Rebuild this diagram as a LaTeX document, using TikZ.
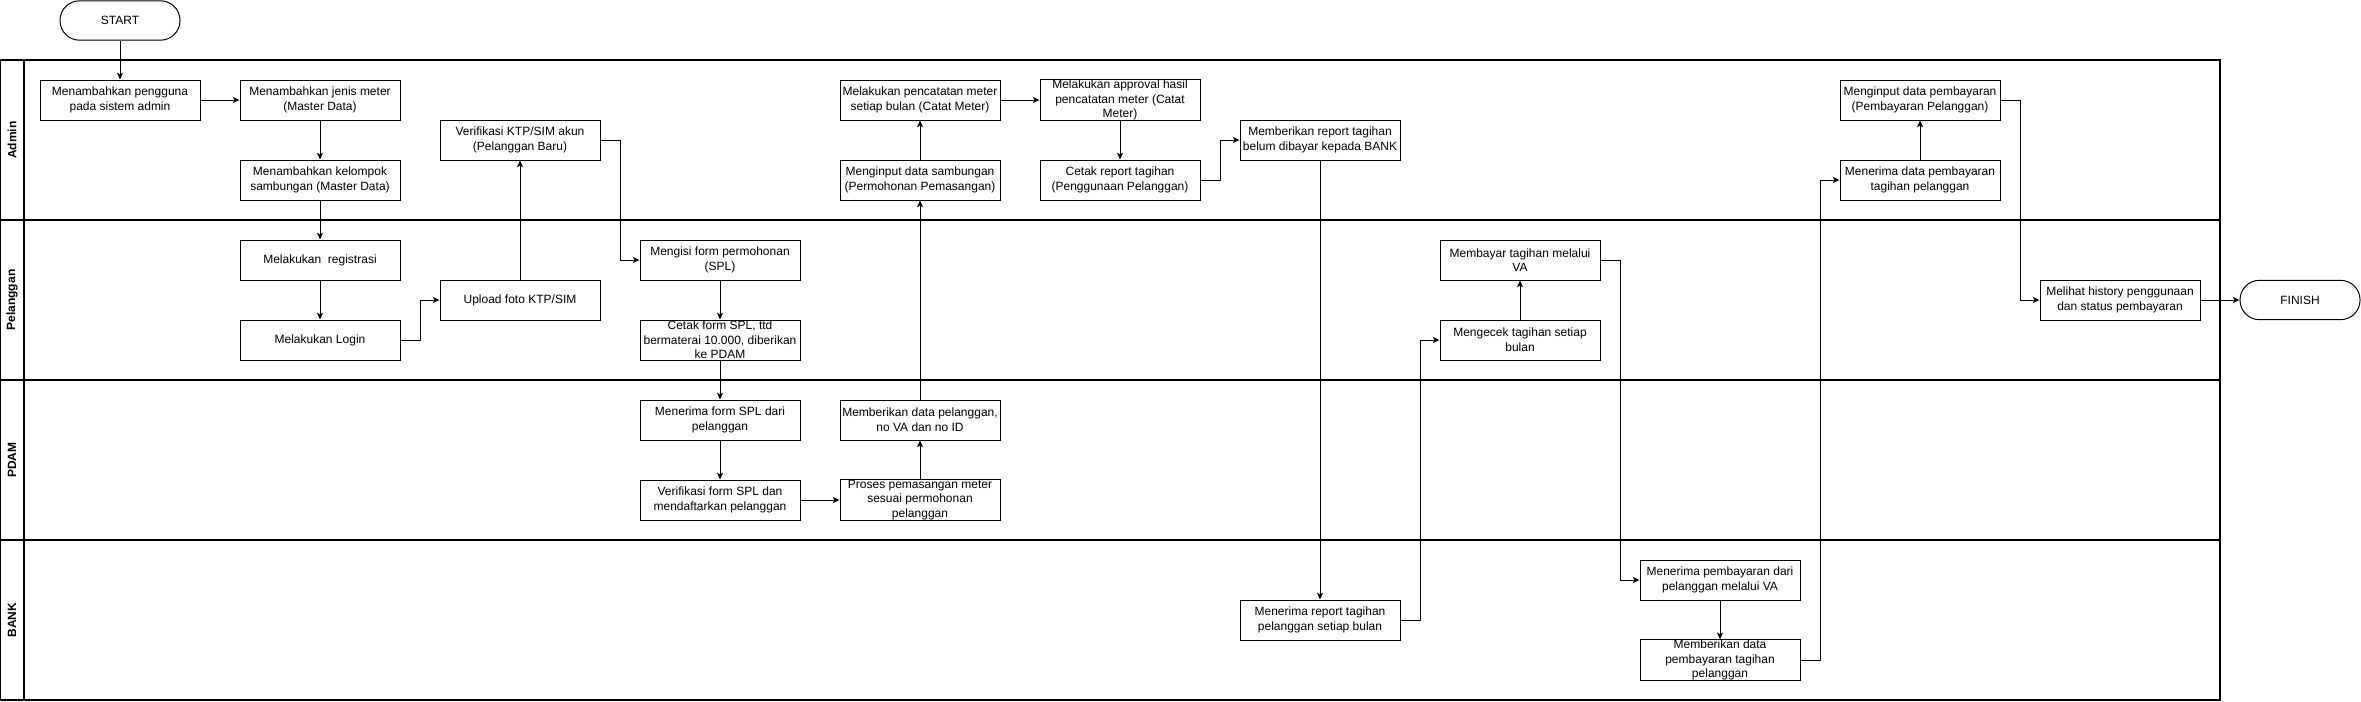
\documentclass[tikz,border=0pt]{standalone}
\usepackage{fontspec}
\setmainfont{Liberation Sans}
\usetikzlibrary{arrows.meta}
\begin{document}
\begin{tikzpicture}[x=0.75pt,y=-0.75pt,
  proc/.style={draw,line width=0.75pt,rectangle,minimum width=120pt,minimum height=30pt,inner sep=0pt,align=center,font=\fontsize{9}{11}\selectfont},
  term/.style={draw,line width=0.75pt,rectangle,rounded corners=14.6pt,minimum width=90pt,minimum height=29.5pt,inner sep=0pt,align=center,font=\fontsize{9}{11}\selectfont},
  lane/.style={line width=1pt},
  lanelabel/.style={rotate=90,font=\bfseries\fontsize{9}{11}\selectfont},
  flow/.style={line width=0.75pt,-{Stealth[length=5pt,width=4.5pt,inset=1.2pt]}}
]
\useasboundingbox (0,0) rectangle (2361,701);
% pool and lanes
\draw[lane] (0.5,60) rectangle (2220,700);
\draw[lane] (24,60) -- (24,700);
\draw[lane] (0.5,220) -- (2220,220);
\draw[lane] (0.5,380) -- (2220,380);
\draw[lane] (0.5,540) -- (2220,540);
\node[lanelabel] (lAdmin) at (12,140) {Admin};
\node[lanelabel] (lPel) at (12,300) {Pelanggan};
\node[lanelabel] (lPdam) at (12,460) {PDAM};
\node[lanelabel] (lBank) at (12,620) {BANK};
% terminals
\node[term] (start) at (120,20.5) {START};
\node[term] (finish) at (2300,300) {FINISH};
% Admin lane
\node[proc] (a1) at (120,100) {Menambahkan pengguna\\pada sistem admin};
\node[proc] (a2) at (320,100) {Menambahkan jenis meter\\(Master Data)};
\node[proc] (a3) at (320,180) {Menambahkan kelompok\\sambungan (Master Data)};
\node[proc] (a4) at (520,140) {Verifikasi KTP/SIM akun\\(Pelanggan Baru)};
\node[proc] (a5) at (920,100) {Melakukan pencatatan meter\\setiap bulan (Catat Meter)};
\node[proc] (a6) at (920,180) {Menginput data sambungan\\(Permohonan Pemasangan)};
\node[proc] (a7) at (1120,100) {Melakukan approval hasil\\pencatatan meter (Catat\\Meter)};
\node[proc] (a8) at (1120,180) {Cetak report tagihan\\(Penggunaan Pelanggan)};
\node[proc] (a9) at (1320,140) {Memberikan report tagihan\\belum dibayar kepada BANK};
\node[proc] (a10) at (1920,100) {Menginput data pembayaran\\(Pembayaran Pelanggan)};
\node[proc] (a11) at (1920,180) {Menerima data pembayaran\\tagihan pelanggan};
% Pelanggan lane
\node[proc] (p1) at (320,260) {Melakukan\ \ registrasi};
\node[proc] (p2) at (320,340) {Melakukan Login};
\node[proc] (p3) at (520,300) {Upload foto KTP/SIM};
\node[proc] (p4) at (720,260) {Mengisi form permohonan\\(SPL)};
\node[proc] (p5) at (720,340) {Cetak form SPL, ttd\\bermaterai 10.000, diberikan\\ke PDAM};
\node[proc] (p6) at (1520,260) {Membayar tagihan melalui\\VA};
\node[proc] (p7) at (1520,340) {Mengecek tagihan setiap\\bulan};
\node[proc] (p8) at (2120,300) {Melihat history penggunaan\\dan status pembayaran};
% PDAM lane
\node[proc] (d1) at (720,420) {Menerima form SPL dari\\pelanggan};
\node[proc] (d2) at (720,500) {Verifikasi form SPL dan\\mendaftarkan pelanggan};
\node[proc] (d3) at (920,420) {Memberikan data pelanggan,\\no VA dan no ID};
\node[proc] (d4) at (920,500) {Proses pemasangan meter\\sesuai permohonan\\pelanggan};
% BANK lane
\node[proc] (b1) at (1320,620) {Menerima report tagihan\\pelanggan setiap bulan};
\node[proc] (b2) at (1720,580) {Menerima pembayaran dari\\pelanggan melalui VA};
\node[proc] (b3) at (1720,660) {Memberikan data\\pembayaran tagihan\\pelanggan};
% connectors
\draw[flow] (start.south) -- (a1.north);
\draw[flow] (a1.east) -- (a2.west);
\draw[flow] (a2.south) -- (a3.north);
\draw[flow] (a3.south) -- (p1.north);
\draw[flow] (p1.south) -- (p2.north);
\draw[flow] (p2.east) -- ++(20,0) |- (p3.west);
\draw[flow] (p3.north) -- (a4.south);
\draw[flow] (a4.east) -- ++(20,0) |- (p4.west);
\draw[flow] (p4.south) -- (p5.north);
\draw[flow] (p5.south) -- (d1.north);
\draw[flow] (d1.south) -- (d2.north);
\draw[flow] (d2.east) -- (d4.west);
\draw[flow] (d4.north) -- (d3.south);
\draw[flow] (d3.north) -- (a6.south);
\draw[flow] (a6.north) -- (a5.south);
\draw[flow] (a5.east) -- (a7.west);
\draw[flow] (a7.south) -- (a8.north);
\draw[flow] (a8.east) -- ++(20,0) |- (a9.west);
\draw[flow] (a9.south) -- (b1.north);
\draw[flow] (b1.east) -- ++(20,0) |- (p7.west);
\draw[flow] (p7.north) -- (p6.south);
\draw[flow] (p6.east) -- ++(20,0) |- (b2.west);
\draw[flow] (b2.south) -- (b3.north);
\draw[flow] (b3.east) -- ++(20,0) |- (a11.west);
\draw[flow] (a11.north) -- (a10.south);
\draw[flow] (a10.east) -- ++(20,0) |- (p8.west);
\draw[flow] (p8.east) -- (finish.west);
\end{tikzpicture}
\end{document}
